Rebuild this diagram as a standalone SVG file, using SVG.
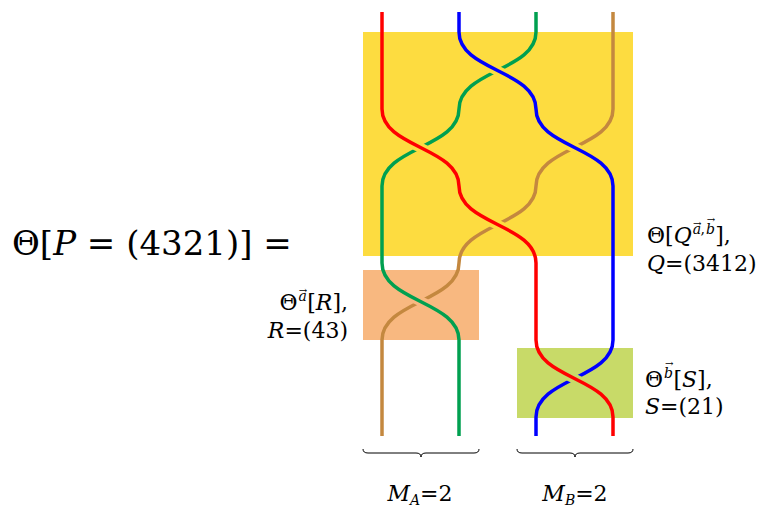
<svg xmlns="http://www.w3.org/2000/svg" width="765" height="510" viewBox="0 0 765 510">
<style>
.s{fill:none;stroke-width:3.5;stroke-linecap:butt}
.h{fill:none;stroke-width:10;stroke-linecap:butt}
.t{font-family:"DejaVu Serif","Liberation Serif",serif;fill:#000}
.i{font-style:italic}
.v{font-style:normal;font-size:10px}
.br{fill:none;stroke:#000;stroke-width:1}
</style>
<rect width="765" height="510" fill="#fff"/>
<g id="boxQ"><rect x="363" y="32" width="270" height="224" fill="#FDDC40"/></g>
<g id="boxR"><rect x="363" y="270" width="116" height="70" fill="#F8B880"/></g>
<g id="boxS"><rect x="517" y="348" width="116" height="70" fill="#C8DA68"/></g>
<g id="connectors">
<path id="brown" class="s" stroke="#C4883F" d="M613,12 V109 C613,147.5 536,147.5 536,186 C536,224.5 459,224.5 459,263 C459,301.5 382,301.5 382,340 V436"/>
<path class="h" stroke="#F8B880" d="M412,297 L429,305.5"/>
<path id="green" class="s" stroke="#00A050" d="M536,12 V32 C536,70.5 459,70.5 459,109 C459,147.5 382,147.5 382,186 V263 C382,301.5 459,301.5 459,340 V436"/>
<path class="h" stroke="#FDDC40" d="M489,66.5 L506,75"/>
<path class="h" stroke="#FDDC40" d="M566,143.5 L583,152"/>
<path id="blue" class="s" stroke="#0000FF" d="M459,12 V32 C459,70.5 536,70.5 536,109 C536,147.5 613,147.5 613,186 V340 C613,378.5 536,378.5 536,417 V436"/>
<path class="h" stroke="#FDDC40" d="M412,143.5 L429,152"/>
<path class="h" stroke="#FDDC40" d="M489,220.5 L506,229"/>
<path class="h" stroke="#C8DA68" d="M566,374.5 L583,383"/>
<path id="red" class="s" stroke="#FF0000" d="M382,12 V109 C382,147.5 459,147.5 459,186 C459,224.5 536,224.5 536,263 V340 C536,378.5 613,378.5 613,417 V436"/>
<path id="braceA" class="br" d="M363,449 q0,4 5,4 H416 q5,0 5,4 q0,-4 5,-4 H474 q5,0 5,-4"/>
<path id="braceB" class="br" d="M517,449 q0,4 5,4 H570 q5,0 5,4 q0,-4 5,-4 H628 q5,0 5,-4"/>
</g>
<g id="formula"><text class="t" x="12" y="255" font-size="34">Θ[<tspan class="i">P</tspan> = (4321)] =</text></g>
<g id="labelQ">
<text class="t" x="647" y="243" font-size="22">Θ[<tspan class="i">Q</tspan><tspan font-size="14" dx="1" dy="-9" class="i">a</tspan><tspan class="v" dx="-8" dy="-7">→</tspan><tspan font-size="14" dx="-1" dy="7">,</tspan><tspan font-size="14" dx="1" class="i">b</tspan><tspan class="v" dx="-8" dy="-11">→</tspan><tspan dy="20">],</tspan></text>
<text class="t" x="647" y="271" font-size="22"><tspan class="i">Q</tspan>=(3412)</text>
</g>
<g id="labelR">
<text class="t" x="348" y="310" font-size="22" text-anchor="end">Θ<tspan font-size="14" dx="1" dy="-9" class="i">a</tspan><tspan class="v" dx="-8" dy="-7">→</tspan><tspan dy="16">[</tspan><tspan class="i">R</tspan>],</text>
<text class="t" x="348" y="338" font-size="22" text-anchor="end"><tspan class="i">R</tspan>=(43)</text>
</g>
<g id="labelS">
<text class="t" x="645" y="387" font-size="22">Θ<tspan font-size="14" dx="1" dy="-9" class="i">b</tspan><tspan class="v" dx="-8" dy="-11">→</tspan><tspan dy="20">[</tspan><tspan class="i">S</tspan>],</text>
<text class="t" x="645" y="414" font-size="22"><tspan class="i">S</tspan>=(21)</text>
</g>
<g id="labelMA"><text class="t" x="420" y="501" font-size="22" text-anchor="middle"><tspan class="i">M</tspan><tspan class="i" font-size="14" dy="4">A</tspan><tspan dy="-4">=2</tspan></text></g>
<g id="labelMB"><text class="t" x="575" y="501" font-size="22" text-anchor="middle"><tspan class="i">M</tspan><tspan class="i" font-size="14" dy="4">B</tspan><tspan dy="-4">=2</tspan></text></g>
</svg>
